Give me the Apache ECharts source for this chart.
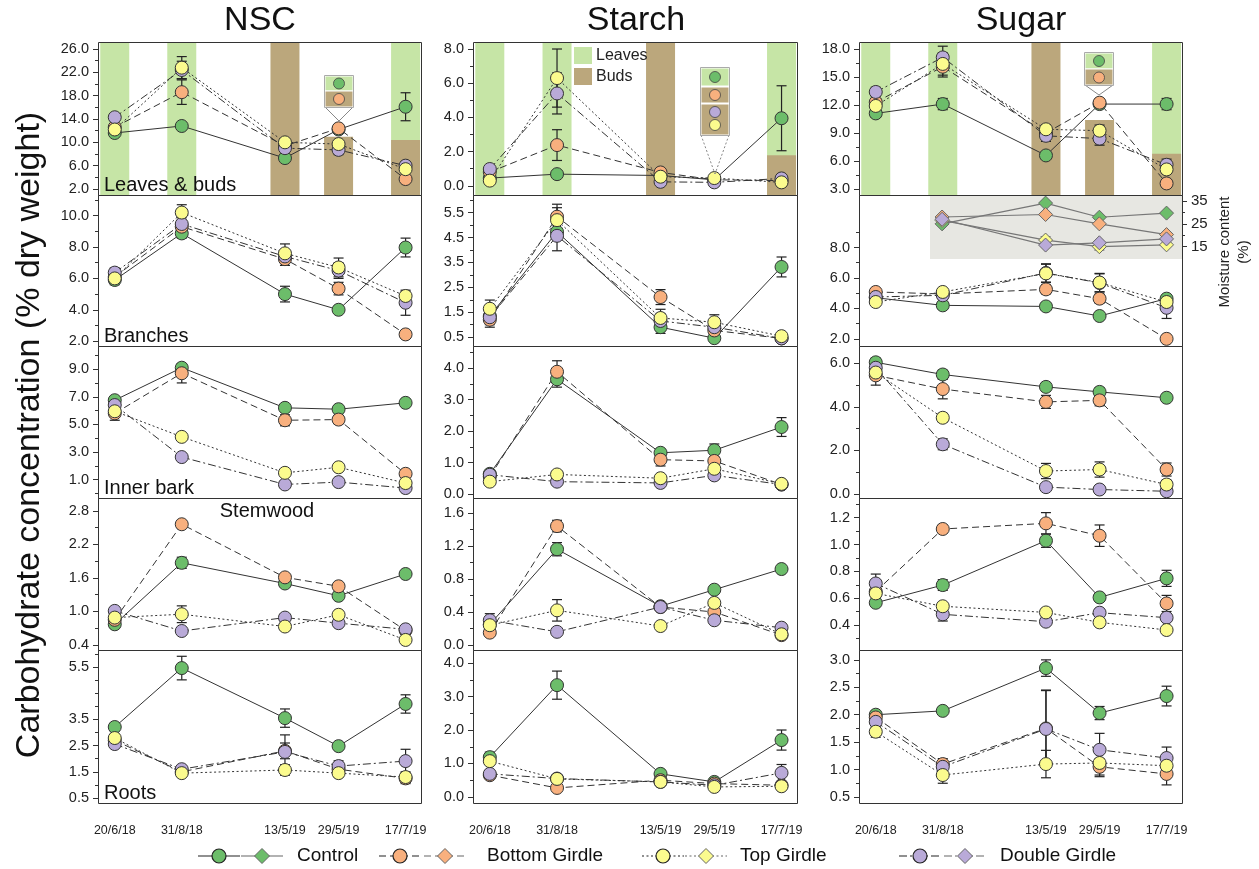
<!DOCTYPE html>
<html><head><meta charset="utf-8">
<script src="https://cdn.jsdelivr.net/npm/echarts@6/dist/echarts.min.js"></script>
<style>html,body{margin:0;padding:0;background:#fff}#c{width:1259px;height:869px}</style>
</head><body><div id="c"></div>
<script>
// ---------- DATA ----------
const dates = ['20/6/18','31/8/18','13/5/19','29/5/19','17/7/19'];
const datePos = [0, 1, 2.54, 3.34, 4.34];   // horizontal slot of each sampling date
const treatments = ['Control','Bottom Girdle','Top Girdle','Double Girdle'];
const columnTitles = ['NSC','Starch','Sugar'];
const tissues = ['Leaves & buds','Branches','Inner bark','Stemwood','Roots'];

// rows: Control, Bottom Girdle, Top Girdle, Double Girdle
const nscLeaves = [[11.6,12.8,7.3,12.2,16.1],[12.6,18.6,9.4,12.4,3.7],[12.2,22.8,10.0,9.7,5.4],[14.3,22.4,9.0,8.7,6.0]];
const nscLeavesErr = [[0.4,0.5,0.4,0.5,2.4],[0.5,2.1,0.5,0.5,0.5],[0.5,1.9,0.5,0.5,0.5],[0.6,1.5,0.6,0.8,0.6]];
const starchLeaves = [[0.45,0.68,0.6,0.35,3.95],[0.8,2.38,0.78,0.35,0.3],[0.3,6.3,0.53,0.45,0.2],[0.98,5.4,0.23,0.2,0.43]];
const starchLeavesErr = [[0.1,0.15,0.1,0.1,1.9],[0.1,0.9,0.15,0.1,0.1],[0.1,1.7,0.15,0.1,0.1],[0.15,1.2,0.1,0.1,0.15]];
const sugarLeaves = [[11.1,12.1,6.6,12.1,12.1],[12.3,16.1,9.0,12.25,3.6],[11.9,16.4,9.4,9.25,5.1],[13.4,17.1,8.7,8.4,5.6]];
const sugarLeavesErr = [[0.4,0.6,0.3,0.3,0.6],[0.4,1.1,0.4,0.4,0.3],[0.4,1.2,0.5,0.6,0.4],[0.5,1.2,0.6,0.7,0.6]];

const nscBranches = [[5.9,8.87,5.0,4.0,7.97],[6.1,9.3,7.23,5.35,2.43],[6.0,10.2,7.6,6.7,4.88],[6.37,9.47,7.4,6.5,4.45]];
const nscBranchesErr = [[0.3,0.3,0.5,0.2,0.6],[0.3,0.4,0.4,0.4,0.2],[0.3,0.5,0.6,0.6,0.3],[0.3,0.4,0.4,0.5,0.8]];
const starchBranches = [[1.35,4.73,0.9,0.46,3.32],[1.2,5.34,2.11,0.77,0.45],[1.64,5.2,1.27,1.1,0.54],[1.3,4.57,1.15,0.9,0.45]];
const starchBranchesErr = [[0.25,0.3,0.25,0.1,0.4],[0.3,0.5,0.3,0.2,0.1],[0.35,0.5,0.35,0.3,0.1],[0.3,0.6,0.3,0.25,0.1]];
const sugarBranches = [[4.7,4.2,4.13,3.5,4.64],[5.08,4.95,5.25,4.64,2.0],[4.42,5.08,6.3,5.7,4.42],[4.75,4.86,6.33,5.67,4.04]];
const sugarBranchesErr = [[0.2,0.2,0.2,0.2,0.2],[0.2,0.2,0.3,0.3,0.1],[0.2,0.2,0.6,0.6,0.3],[0.2,0.2,0.6,0.6,0.7]];

const nscInner = [[6.75,9.1,6.2,6.1,6.56],[5.8,8.7,5.3,5.35,1.43],[5.95,4.1,1.5,1.9,0.76],[6.4,2.64,0.66,0.83,0.4]];
const nscInnerErr = [[0.2,0.2,0.2,0.2,0.2],[0.5,0.7,0.4,0.3,0.2],[0.3,0.2,0.2,0.2,0.2],[0.3,0.2,0.1,0.1,0.1]];
const starchInner = [[0.64,3.65,1.31,1.39,2.13],[0.55,3.89,1.09,1.05,0.3],[0.39,0.62,0.5,0.8,0.32],[0.61,0.39,0.35,0.59,0.3]];
const starchInnerErr = [[0.1,0.25,0.1,0.2,0.3],[0.1,0.35,0.2,0.1,0.05],[0.05,0.05,0.05,0.05,0.05],[0.05,0.05,0.05,0.05,0.05]];
const sugarInner = [[6.05,5.49,4.92,4.69,4.42],[5.45,4.82,4.23,4.3,1.12],[5.58,3.5,1.05,1.12,0.43],[5.8,2.28,0.31,0.2,0.12]];
const sugarInnerErr = [[0.2,0.2,0.2,0.2,0.1],[0.45,0.45,0.3,0.25,0.3],[0.3,0.2,0.35,0.35,0.2],[0.3,0.25,0.15,0.1,0.1]];

const nscStem = [[0.77,1.87,1.5,1.28,1.67],[0.85,2.56,1.61,1.45,0.66],[0.89,0.95,0.73,0.94,0.49],[1.01,0.65,0.89,0.79,0.68]];
const nscStemErr = [[0.04,0.1,0.04,0.04,0.04],[0.04,0.06,0.05,0.06,0.04],[0.04,0.15,0.04,0.04,0.03],[0.05,0.04,0.04,0.04,0.04]];
const starchStem = [[0.25,1.16,0.47,0.67,0.92],[0.15,1.44,0.46,0.4,0.12],[0.24,0.42,0.23,0.51,0.13],[0.3,0.16,0.46,0.3,0.21]];
const starchStemErr = [[0.03,0.08,0.03,0.03,0.03],[0.03,0.07,0.03,0.03,0.02],[0.03,0.13,0.02,0.03,0.02],[0.08,0.02,0.03,0.03,0.02]];
const sugarStem = [[0.566,0.698,1.029,0.606,0.748],[0.65,1.116,1.158,1.066,0.561],[0.636,0.54,0.494,0.42,0.363],[0.71,0.48,0.425,0.492,0.455]];
const sugarStemErr = [[0.02,0.04,0.05,0.02,0.06],[0.03,0.03,0.08,0.08,0.06],[0.02,0.02,0.03,0.02,0.02],[0.07,0.05,0.02,0.02,0.02]];

const nscRoots = [[3.21,5.46,3.55,2.48,4.09],[2.7,1.5,2.3,1.6,1.25],[2.79,1.45,1.57,1.45,1.3],[2.56,1.6,2.26,1.72,1.91]];
const nscRootsErr = [[0.15,0.45,0.35,0.1,0.35],[0.1,0.1,0.3,0.15,0.2],[0.15,0.1,0.2,0.15,0.2],[0.1,0.1,0.65,0.2,0.45]];
const starchRoots = [[1.19,3.34,0.69,0.45,1.7],[0.65,0.27,0.5,0.4,0.35],[1.07,0.54,0.45,0.3,0.32],[0.69,0.55,0.45,0.35,0.72]];
const starchRootsErr = [[0.15,0.42,0.05,0.05,0.3],[0.1,0.05,0.05,0.05,0.05],[0.1,0.1,0.05,0.05,0.05],[0.1,0.1,0.05,0.05,0.25]];
const sugarRoots = [[2.0,2.07,2.85,2.03,2.34],[1.95,1.1,1.75,1.05,0.92],[1.69,0.9,1.1,1.12,1.07],[1.87,1.05,1.74,1.36,1.21]];
const sugarRootsErr = [[0.05,0.05,0.15,0.12,0.18],[0.1,0.1,0.7,0.15,0.2],[0.1,0.15,0.25,0.25,0.2],[0.1,0.1,0.7,0.3,0.2]];

// moisture content of branches (%), from 31/8/18 on
const moistControl = [null,25,34.1,27.9,29.7];
const moistBottom  = [null,28,29.1,25,20.3];
const moistTop     = [null,26.5,17.9,15,15.8];
const moistDouble  = [null,27,15.7,16.7,18.4];
const moistTopErr  = [0,0.5,1.5,1.5,0.5];

// background bars in the Leaves & buds row (% of panel height): top of the leaves band, top of the buds band
const nscLeavesTopPct = [100,100,0,0,100],   nscBudsPct = [0,0,100,38,36];
const starchLeavesTopPct = [100,100,0,0,100], starchBudsPct = [0,0,100,0,26];
const sugarLeavesTopPct = [100,100,0,0,100],  sugarBudsPct = [0,0,100,49,27];

// tick labels
const nscLeavesTicks = [2,6,10,14,18,22,26];
const starchLeavesTicks = [0,2,4,6,8];
const sugarLeavesTicks = [3,6,9,12,15,18];
const nscBranchesTicks = [2,4,6,8,10];
const starchBranchesTicks = [0.5,1.5,2.5,3.5,4.5,5.5];
const sugarBranchesTicks = [2,4,6,8];
const nscInnerTicks = [1,3,5,7,9];
const starchInnerTicks = [0,1,2,3,4];
const sugarInnerTicks = [0,2,4,6];
const nscStemTicks = [0.4,1.0,1.6,2.2,2.8];
const starchStemTicks = [0,0.4,0.8,1.2,1.6];
const sugarStemTicks = [0.4,0.6,0.8,1.0,1.2];
const nscRootsTicks = [0.5,1.5,2.5,3.5,5.5];
const starchRootsTicks = [0,1,2,3,4];
const sugarRootsTicks = [0.5,1.0,1.5,2.0,2.5,3.0];
const moistureTicks = [15,25,35];

// ---------- LAYOUT / STYLE ----------
const FONT = "'Liberation Sans', Arial, sans-serif";
const COLORS = ['#6cbd6a','#f8b07e','#fbfb8e','#b9aad8'];
const DASHES = ['solid',[7,4],[2,2.5],[8,3,2,3]];
const LEAF_BG = '#c6e5a6', BUD_BG = '#bba77c';
const colLeft = [98,473,859], colWidth = [323,324,323];
const rowTop = [42,195,346,498,650], rowHeight = [153,151,152,152,153];
const xMin = -0.25, xMax = 4.57;
const yRanges = [
  [[0.97,27.2],[-0.54,8.41],[2.36,18.75]],
  [[1.69,11.32],[0.145,6.21],[1.53,11.45]],
  [[-0.32,10.67],[-0.13,4.71],[-0.19,6.8]],
  [[0.31,3.03],[-0.06,1.78],[0.214,1.347]],
  [[0.31,6.15],[-0.18,4.39],[0.39,3.18]]];

const panelVals = [[nscLeaves,starchLeaves,sugarLeaves],[nscBranches,starchBranches,sugarBranches],[nscInner,starchInner,sugarInner],[nscStem,starchStem,sugarStem],[nscRoots,starchRoots,sugarRoots]];
const panelErrs = [[nscLeavesErr,starchLeavesErr,sugarLeavesErr],[nscBranchesErr,starchBranchesErr,sugarBranchesErr],[nscInnerErr,starchInnerErr,sugarInnerErr],[nscStemErr,starchStemErr,sugarStemErr],[nscRootsErr,starchRootsErr,sugarRootsErr]];
const panelTicks = [[nscLeavesTicks,starchLeavesTicks,sugarLeavesTicks],[nscBranchesTicks,starchBranchesTicks,sugarBranchesTicks],[nscInnerTicks,starchInnerTicks,sugarInnerTicks],[nscStemTicks,starchStemTicks,sugarStemTicks],[nscRootsTicks,starchRootsTicks,sugarRootsTicks]];
const budsPct = [nscBudsPct,starchBudsPct,sugarBudsPct];
const leavesTopPct = [nscLeavesTopPct,starchLeavesTopPct,sugarLeavesTopPct];

function minorTicks(ticks, min, max) {
  const half = (ticks[1]-ticks[0])/2, out = [];
  for (let v = ticks[0]-half; v <= ticks[ticks.length-1]+half+1e-9; v += half) {
    const rv = Math.round(v*1e6)/1e6;
    if (rv < min || rv > max) continue;
    if (ticks.some(t => Math.abs(t-rv) < 1e-6)) continue;
    out.push(rv);
  }
  return out;
}

const grid = [], xAxis = [], yAxis = [], series = [], graphic = [];
const NOLINE = {show:false, onZero:false};

function errSeries(xi, yi, data, color) {
  return {type:'custom', xAxisIndex:xi, yAxisIndex:yi, z:2, silent:true,
    dimensions:['x','y','e'], encode:{x:0,y:1}, data,
    renderItem(params, api) {
      const x = api.value(0), y = api.value(1), e = api.value(2);
      if (!e) return null;
      const p1 = api.coord([x, y+e]), p2 = api.coord([x, y-e]), hw = 5;
      const st = {stroke: color, lineWidth: 1.2};
      return {type:'group', children:[
        {type:'line', shape:{x1:p1[0],y1:p1[1],x2:p2[0],y2:p2[1]}, style:st},
        {type:'line', shape:{x1:p1[0]-hw,y1:p1[1],x2:p1[0]+hw,y2:p1[1]}, style:st},
        {type:'line', shape:{x1:p2[0]-hw,y1:p2[1],x2:p2[0]+hw,y2:p2[1]}, style:st}]};
    }};
}

for (let r = 0; r < 5; r++) {
  for (let c = 0; c < 3; c++) {
    const g = grid.push({left:colLeft[c], top:rowTop[r], width:colWidth[c], height:rowHeight[r], show:false}) - 1;
    const [ymin, ymax] = yRanges[r][c];
    const ticks = panelTicks[r][c];
    const xi = xAxis.push({gridIndex:g, type:'value', min:xMin, max:xMax, position:'bottom',
      axisLine:NOLINE, axisTick:{show:false}, splitLine:{show:false},
      axisLabel: r === 4 ? {show:true, customValues:datePos, margin:21, fontSize:12.5, color:'#222', fontFamily:FONT,
        formatter: v => dates[datePos.findIndex(p => Math.abs(p-v) < 1e-6)]} : {show:false}}) - 1;
    const yi = yAxis.push({gridIndex:g, type:'value', min:ymin, max:ymax, position:'left',
      axisLine:NOLINE, splitLine:{show:false},
      axisTick:{show:true, inside:false, customValues:ticks, length:5, lineStyle:{color:'#333', width:1}},
      axisLabel:{show:true, customValues:ticks, margin:9, fontSize:14.5, color:'#222', fontFamily:FONT, formatter: v => v.toFixed(1)}}) - 1;
    yAxis.push({gridIndex:g, type:'value', min:ymin, max:ymax, position:'left',
      axisLine:NOLINE, splitLine:{show:false}, axisLabel:{show:false},
      axisTick:{show:true, inside:false, customValues:minorTicks(ticks, ymin, ymax), length:3, lineStyle:{color:'#333', width:1}}});
    if (r === 0) {
      const ybar = yAxis.push({gridIndex:g, type:'value', min:0, max:100, show:false, position:'right', axisLine:NOLINE}) - 1;
      series.push({type:'bar', xAxisIndex:xi, yAxisIndex:ybar, barWidth:29, barGap:'-100%', z:0, silent:true,
        itemStyle:{color:LEAF_BG}, data: leavesTopPct[c].map((v,i) => [datePos[i], v])});
      series.push({type:'bar', xAxisIndex:xi, yAxisIndex:ybar, barWidth:29, barGap:'-100%', z:0, silent:true,
        itemStyle:{color:BUD_BG}, data: budsPct[c].map((v,i) => [datePos[i], v])});
    }
    const vals = panelVals[r][c], errs = panelErrs[r][c];
    const errData = [];
    vals.forEach((row, t) => row.forEach((v, i) => errData.push([datePos[i], v, errs[t][i]])));
    series.push(errSeries(xi, yi, errData, '#222'));
    [0,1,3,2].forEach(t => {
      series.push({type:'line', name:treatments[t], xAxisIndex:xi, yAxisIndex:yi, z:3,
        symbol:'circle', symbolSize:13, showSymbol:true,
        itemStyle:{color:COLORS[t], borderColor:'#333', borderWidth:1},
        lineStyle:{color:'#333', width:1, type:DASHES[t]},
        data: vals[t].map((v,i) => [datePos[i], v])});
    });
    // frame
    graphic.push({type:'rect', z:100, silent:true,
      shape:{x:colLeft[c]+0.5, y:rowTop[r]+0.5, width:colWidth[c], height:rowHeight[r]},
      style:{fill:null, stroke:'#333', lineWidth:1}});
  }
  // tissue labels
  if (r !== 3) {
    graphic.push({type:'text', z:101, x:colLeft[0]+6, y:rowTop[r]+rowHeight[r]-10,
      style:{text:tissues[r], font:'20px '+FONT, fill:'#111', align:'left', verticalAlign:'middle'}});
  }
}
graphic.push({type:'text', z:101, x:267, y:511,
  style:{text:tissues[3], font:'20px '+FONT, fill:'#111', align:'center', verticalAlign:'middle'}});

// moisture inset grid (inside Sugar / Branches panel)
{
  const g = grid.push({left:930, top:196, width:252, height:63, show:true, backgroundColor:'#e7e7e2', borderWidth:0}) - 1;
  const xi = xAxis.push({gridIndex:g, type:'value', min:0.82, max:4.57, show:false, axisLine:NOLINE}) - 1;
  const yi = yAxis.push({gridIndex:g, type:'value', min:9.6, max:37.2, position:'right',
    axisLine:NOLINE, splitLine:{show:false},
    axisTick:{show:true, inside:false, customValues:moistureTicks, length:5, lineStyle:{color:'#333'}},
    axisLabel:{show:true, customValues:moistureTicks, margin:9, fontSize:15, color:'#222', fontFamily:FONT}}) - 1;
  yAxis.push({gridIndex:g, type:'value', min:9.6, max:37.2, position:'right',
    axisLine:NOLINE, splitLine:{show:false}, axisLabel:{show:false},
    axisTick:{show:true, inside:false, customValues:[20,30], length:3, lineStyle:{color:'#333'}}});
  series.push(errSeries(xi, yi, moistTop.map((v,i) => [datePos[i], v, moistTopErr[i]]).filter(d => d[1] != null), '#777'));
  [moistControl, moistBottom, moistTop, moistDouble].forEach((arr, t) => {
    series.push({type:'line', xAxisIndex:xi, yAxisIndex:yi, z:3, symbol:'diamond', symbolSize:14,
      itemStyle:{color:COLORS[t], borderColor:'#666', borderWidth:1},
      lineStyle:{color:'#777', width:1.2},
      data: arr.map((v,i) => [datePos[i], v]).filter(d => d[1] != null)});
  });
  graphic.push({type:'text', z:101, x:1234, y:252, rotation:Math.PI/2,
    style:{text:'Moisture content\n(%)', font:'15px '+FONT, fill:'#222', align:'center', verticalAlign:'middle', lineHeight:19}});
}

// titles
const titleX = [260, 636, 1021];
columnTitles.forEach((t,i) => graphic.push({type:'text', z:101, x:titleX[i], y:21,
  style:{text:t, font:'34px '+FONT, fill:'#111', align:'center', verticalAlign:'middle'}}));
graphic.push({type:'text', z:101, x:30, y:435, rotation:Math.PI/2,
  style:{text:'Carbohydrate concentration (% dry weight)', font:'34px '+FONT, fill:'#111', align:'center', verticalAlign:'middle'}});

// Leaves / Buds key in the Starch panel
graphic.push({type:'rect', z:101, shape:{x:574,y:47,width:18,height:17}, style:{fill:LEAF_BG}});
graphic.push({type:'rect', z:101, shape:{x:574,y:68,width:18,height:17}, style:{fill:BUD_BG}});
graphic.push({type:'text', z:101, x:596, y:56, style:{text:'Leaves', font:'16px '+FONT, fill:'#222', align:'left', verticalAlign:'middle'}});
graphic.push({type:'text', z:101, x:596, y:77, style:{text:'Buds', font:'16px '+FONT, fill:'#222', align:'left', verticalAlign:'middle'}});

// magnifier insets at 29/5/19 in the Leaves & buds row
function inset(x, cells, apex, dash) {
  const w = 28;
  let yTop = cells[0].y, yBot = cells[cells.length-1].y + cells[cells.length-1].h;
  cells.forEach(cl => {
    graphic.push({type:'rect', z:102, shape:{x:x, y:cl.y, width:w, height:cl.h}, style:{fill:cl.bg, stroke:'#fff', lineWidth:1}});
    cl.dots.forEach(d => graphic.push({type:'circle', z:103, shape:{cx:x+w/2, cy:d[0], r:5.5}, style:{fill:COLORS[d[1]], stroke:'#444', lineWidth:0.8}}));
  });
  graphic.push({type:'rect', z:103, shape:{x:x-0.5, y:yTop-0.5, width:w+1, height:yBot-yTop+1}, style:{fill:null, stroke:'#aaa', lineWidth:1}});
  const st = {stroke:'#888', lineWidth:1, lineDash: dash ? [2,2] : null};
  graphic.push({type:'line', z:102, shape:{x1:x, y1:yBot, x2:x+w/2, y2:apex}, style:st});
  graphic.push({type:'line', z:102, shape:{x1:x+w, y1:yBot, x2:x+w/2, y2:apex}, style:st});
}
inset(325, [{y:76,h:15,bg:LEAF_BG,dots:[[83.5,0]]},{y:91,h:16,bg:BUD_BG,dots:[[99,1]]}], 121, false);
inset(701, [{y:68,h:18,bg:LEAF_BG,dots:[[77,0]]},{y:87,h:16,bg:BUD_BG,dots:[[95,1]]},{y:104,h:31,bg:BUD_BG,dots:[[112,3],[125,2]]}], 174, true);
inset(1085, [{y:53,h:16,bg:LEAF_BG,dots:[[61,0]]},{y:69,h:16,bg:BUD_BG,dots:[[77.5,1]]}], 95, false);

// bottom legend
const legendCircleX = [219, 400, 663, 920];
const legendDiamondX = [262, 445, 706, 965];
const legendTextX = [297, 487, 740, 1000];
const LY = 856;
treatments.forEach((t, i) => {
  const dash = DASHES[i] === 'solid' ? null : DASHES[i];
  graphic.push({type:'line', z:101, shape:{x1:legendCircleX[i]-21, y1:LY, x2:legendCircleX[i]+21, y2:LY}, style:{stroke:'#222', lineWidth:1.2, lineDash:dash}});
  graphic.push({type:'circle', z:102, shape:{cx:legendCircleX[i], cy:LY, r:7}, style:{fill:COLORS[i], stroke:'#222', lineWidth:1.2}});
  graphic.push({type:'line', z:101, shape:{x1:legendDiamondX[i]-21, y1:LY, x2:legendDiamondX[i]+21, y2:LY}, style:{stroke:'#666', lineWidth:1.2, lineDash:dash}});
  const dx = legendDiamondX[i];
  graphic.push({type:'polygon', z:102, shape:{points:[[dx,LY-7.5],[dx+7.5,LY],[dx,LY+7.5],[dx-7.5,LY]]}, style:{fill:COLORS[i], stroke:'#666', lineWidth:1}});
  graphic.push({type:'text', z:102, x:legendTextX[i], y:LY, style:{text:t, font:'19px '+FONT, fill:'#111', align:'left', verticalAlign:'middle'}});
});

const chart = echarts.init(document.getElementById('c'), null, {renderer:'canvas', width:1259, height:869});
chart.setOption({animation:false, backgroundColor:'#fff', textStyle:{fontFamily:FONT}, grid, xAxis, yAxis, series, graphic});
</script></body></html>
